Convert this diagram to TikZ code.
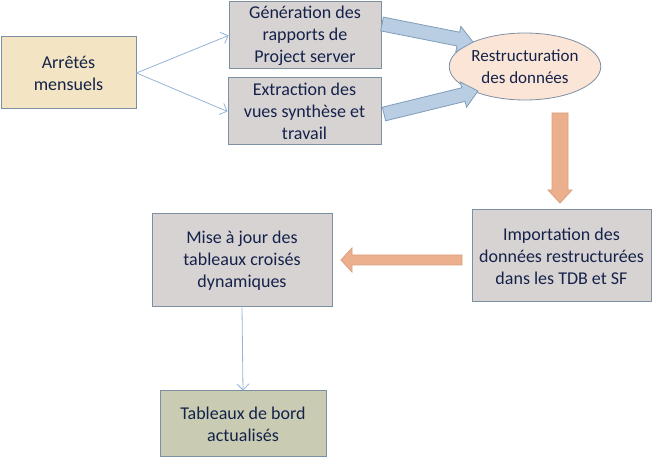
\documentclass[tikz,border=0pt]{standalone}
\usepackage{fontspec}
\setmainfont{Carlito}
\usetikzlibrary{shapes.geometric,calc,arrows.meta}
\definecolor{txt}{HTML}{14224A}
\definecolor{bord}{HTML}{7D8FA3}
\definecolor{beige}{HTML}{F3E5C3}
\definecolor{grisbox}{HTML}{D8D3D3}
\definecolor{olive}{HTML}{C9CCB2}
\definecolor{peche}{HTML}{FBE5D6}
\definecolor{bleuf}{HTML}{B9CDE3}
\definecolor{bleub}{HTML}{7F9DB9}
\definecolor{orf}{HTML}{EDB08E}
\definecolor{orb}{HTML}{D9A07E}
\definecolor{fine}{HTML}{95B3D7}
\tikzset{
  boxnode/.style={draw=bord, line width=1pt, fill=grisbox, align=center, text=txt, inner sep=0pt,
    font=\fontsize{18}{22}\selectfont},
  thinarrow/.style={draw=fine, line width=0.8pt, -{Straight Barb[length=6pt,width=12pt]}},
  bluearrow/.style={draw=bleub, fill=bleuf, line width=0.8pt, line join=miter},
  orangearrow/.style={draw=orb, fill=orf, line width=0.8pt, line join=miter},
}
% from, to, shaft width, head width, head length, style
\newcommand{\blockarrow}[6]{%
  \draw[#6] let \p1=($(#2)-(#1)$), \n1={atan2(\y1,\x1)}, \n2={veclen(\x1,\y1)-#5} in
    ($(#1)+({\n1+90}:{0.5*#3pt})$)
    -- ($(#1)+({\n1}:{\n2*1pt})+({\n1+90}:{0.5*#3pt})$)
    -- ($(#1)+({\n1}:{\n2*1pt})+({\n1+90}:{0.5*#4pt})$)
    -- (#2)
    -- ($(#1)+({\n1}:{\n2*1pt})+({\n1-90}:{0.5*#4pt})$)
    -- ($(#1)+({\n1}:{\n2*1pt})+({\n1-90}:{0.5*#3pt})$)
    -- ($(#1)+({\n1-90}:{0.5*#3pt})$) -- cycle;}
\begin{document}
\begin{tikzpicture}[x=1pt,y=-1pt]
\useasboundingbox (0,0) rectangle (654,462);
\node[boxnode, fill=beige, minimum width=135pt, minimum height=72pt] (arr) at (68.5,73) {Arrêtés\\mensuels};
\node[boxnode, minimum width=152pt, minimum height=67pt] (gen) at (305,35.5) {Génération des\\rapports de\\Project server};
\node[boxnode, minimum width=153pt, minimum height=67pt] (ext) at (304.5,111.5) {Extraction des\\vues synthèse et\\travail};
\node[ellipse, draw=bord, line width=0.8pt, fill=peche, text=txt, align=center, inner sep=0pt,
  minimum width=134pt, minimum height=67pt, font=\fontsize{17}{22}\selectfont] (res) at (525,66.5) {Restructuration\\des données};
\node[boxnode, minimum width=179pt, minimum height=92pt] (imp) at (561.5,256) {Importation des\\données restructurées\\dans les TDB et SF};
\node[boxnode, minimum width=180pt, minimum height=93pt] (maj) at (242,260.5) {Mise à jour des\\tableaux croisés\\dynamiques};
\node[boxnode, fill=olive, minimum width=166pt, minimum height=66pt] (tdb) at (243,424) {Tableaux de bord\\actualisés};

\draw[thinarrow] (arr.east) -- (gen.west);
\draw[thinarrow] (arr.east) -- (ext.west);
\draw[thinarrow] (maj.south) -- (tdb.north);

\coordinate (a1s) at (382,24);
\coordinate (a1e) at (473,42);
\coordinate (a2s) at (384,114);
\coordinate (a2e) at (478,91);
\coordinate (a3s) at (560,113);
\coordinate (a3e) at (560,203);
\coordinate (a4s) at (462,260);
\coordinate (a4e) at (341,260);
\blockarrow{a1s}{a1e}{14}{26}{15}{bluearrow}
\blockarrow{a2s}{a2e}{14}{26}{15}{bluearrow}
\blockarrow{a3s}{a3e}{16}{24}{13}{orangearrow}
\blockarrow{a4s}{a4e}{10}{24}{11}{orangearrow}
\end{tikzpicture}
\end{document}
